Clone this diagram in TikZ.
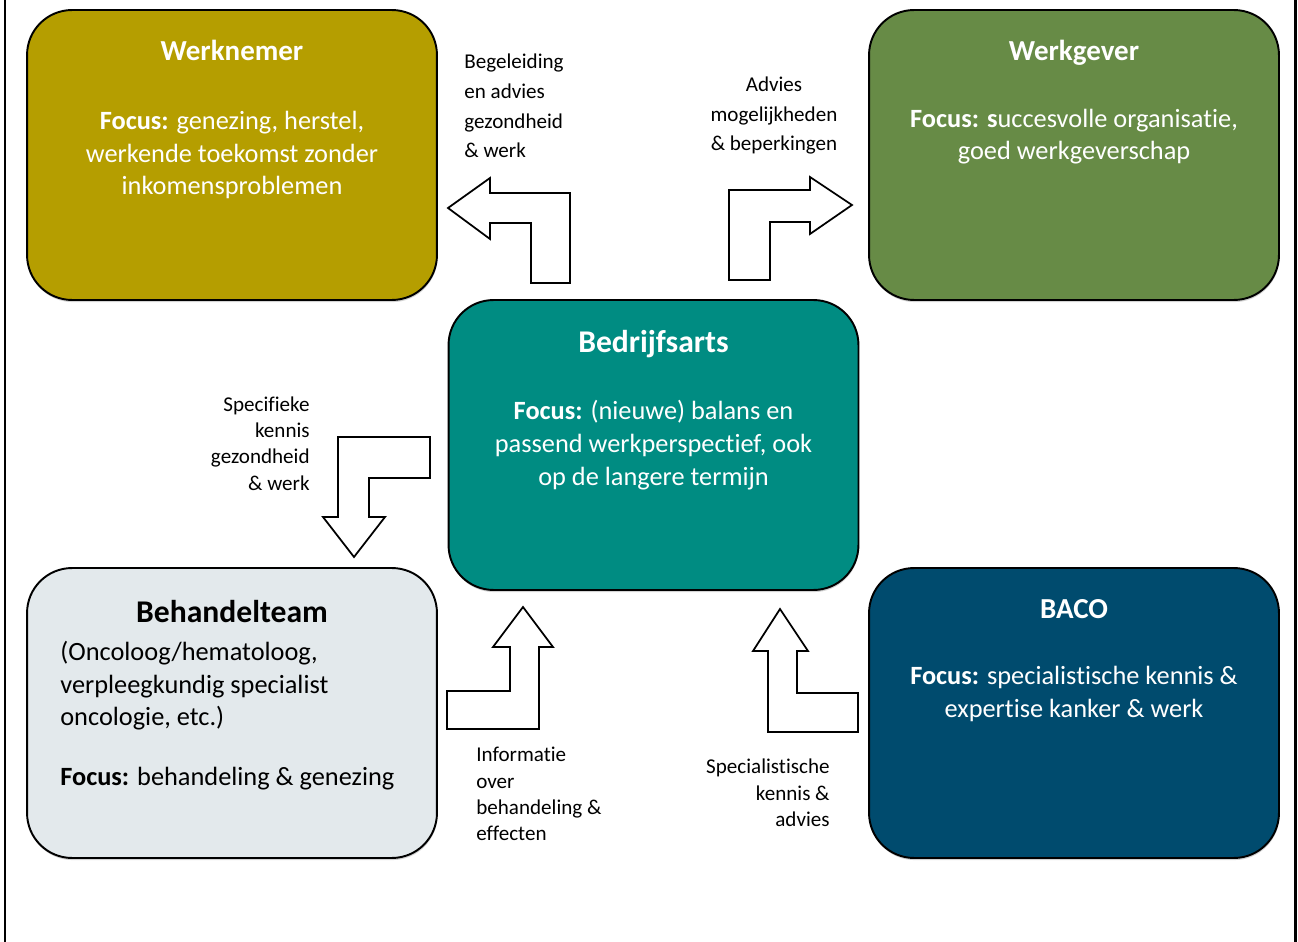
\documentclass[tikz,border=0pt]{standalone}
\usepackage{fontspec}
\setmainfont{Carlito}[Ligatures=NoCommon]
\usetikzlibrary{positioning,shadows}
\definecolor{werknemerkleur}{RGB}{181,158,0}
\definecolor{werkgeverkleur}{RGB}{103,139,70}
\definecolor{artskleur}{RGB}{0,140,130}
\definecolor{behandelkleur}{RGB}{227,233,236}
\definecolor{bacokleur}{RGB}{0,75,110}
\begin{document}
\begin{tikzpicture}[x=0.02cm, y=-0.02cm,
    partij/.style={draw=black, line width=1.1pt, rounded corners=0.9cm,
      minimum width=8.2cm, minimum height=5.8cm, inner sep=0pt,
      drop shadow={shadow xshift=0.3pt, shadow yshift=-1.2pt, opacity=0.35}},
    kop/.style={font=\fontsize{16.5}{20}\selectfont\bfseries, inner sep=0pt, anchor=base},
    grotekop/.style={font=\fontsize{18}{22}\selectfont\bfseries, inner sep=0pt, anchor=base},
    tekst/.style={font=\fontsize{15}{18.6}\selectfont, align=center, inner sep=0pt, anchor=base},
    toelichting/.style={font=\fontsize{12}{17}\selectfont, inner sep=0pt, anchor=base},
    krap/.style={font=\fontsize{12}{14.8}\selectfont},
    pijl/.style={draw=black, line width=1pt, fill=white, line join=miter}]
  \useasboundingbox (0,0) rectangle (1298,942);
  \draw[line width=1.7pt] (5,0) -- (5,942);
  \draw[line width=1.7pt] (1295,0) -- (1295,942);

  % de vijf partijen
  \node[partij, fill=werknemerkleur] (werknemer) at (232,155) {};
  \node[partij, fill=werkgeverkleur] (werkgever) at (1074,155) {};
  \node[partij, fill=artskleur] (arts) at (653.5,445) {};
  \node[partij, fill=behandelkleur] (behandel) at (232,713) {};
  \node[partij, fill=bacokleur] (baco) at (1074,713) {};

  % teksten (anker = basislijn van de laatste regel)
  \node[kop, text=white] (werknemerkop) at (232,61) {Werknemer};
  \node[tekst, text=white] (werknemertekst) at (232,195)
    {\textbf{Focus:} genezing, herstel,\\ werkende toekomst zonder\\ inkomensproblemen};
  \node[kop, text=white] (werkgeverkop) at (1074,61) {Werkgever};
  \node[tekst, text=white] (werkgevertekst) at (1074,160)
    {\textbf{Focus: s}uccesvolle organisatie,\\ goed werkgeverschap};
  \node[grotekop, text=white] (artskop) at (653.5,353) {Bedrijfsarts};
  \node[tekst, text=white] (artstekst) at (653.5,485)
    {\textbf{Focus:} (nieuwe) balans en\\ passend werkperspectief, ook\\ op de langere termijn};
  \node[grotekop] (behandelkop) at (232,622) {Behandelteam};
  \node[tekst, align=left, anchor=base west] (behandeltekst) at (60,785)
    {(Oncoloog/hematoloog,\\ verpleegkundig specialist\\ oncologie, etc.)\\[1em] \textbf{Focus:} behandeling \& genezing};
  \node[kop, text=white] (bacokop) at (1074,618) {BACO};
  \node[tekst, text=white] (bacotekst) at (1074,717)
    {\textbf{Focus:} specialistische kennis \&\\ expertise kanker \& werk};

  % pijlen
  \draw[pijl] (448,208) -- (490,178) -- (490,193) -- (570,193) -- (570,283)
    -- (531,283) -- (531,223) -- (490,223) -- (490,239) -- cycle;
  \draw[pijl] (852,205) -- (810,177) -- (810,190) -- (729,190) -- (729,280)
    -- (770,280) -- (770,222) -- (810,222) -- (810,234) -- cycle;
  \draw[pijl] (430,437) -- (338,437) -- (338,517) -- (323,517) -- (354,557)
    -- (385,517) -- (369,517) -- (369,478) -- (430,478) -- cycle;
  \draw[pijl] (523,607) -- (553,647) -- (539,647) -- (539,729) -- (447,729)
    -- (447,691) -- (510,691) -- (510,647) -- (493,647) -- cycle;
  \draw[pijl] (780,609) -- (808,651) -- (797,651) -- (797,693) -- (858,693)
    -- (858,732) -- (768,732) -- (768,651) -- (753,651) -- cycle;

  % toelichting bij de pijlen
  \node[toelichting, align=left, anchor=base west] (begeleiding) at (464,158)
    {Begeleiding\\ en advies\\ gezondheid\\ \& werk};
  \node[toelichting, align=center] (advies) at (774,151)
    {Advies\\ mogelijkheden\\ \& beperkingen};
  \node[toelichting, krap, align=right, anchor=base east] (specifiek) at (310,490)
    {Specifieke\\ kennis\\ gezondheid\\ \& werk};
  \node[toelichting, krap, align=left, anchor=base west] (informatie) at (476,840)
    {Informatie\\ over\\ behandeling \&\\ effecten};
  \node[toelichting, krap, align=right, anchor=base east] (specialistisch) at (830,826)
    {Specialistische\\ kennis \&\\ advies};
\end{tikzpicture}
\end{document}
